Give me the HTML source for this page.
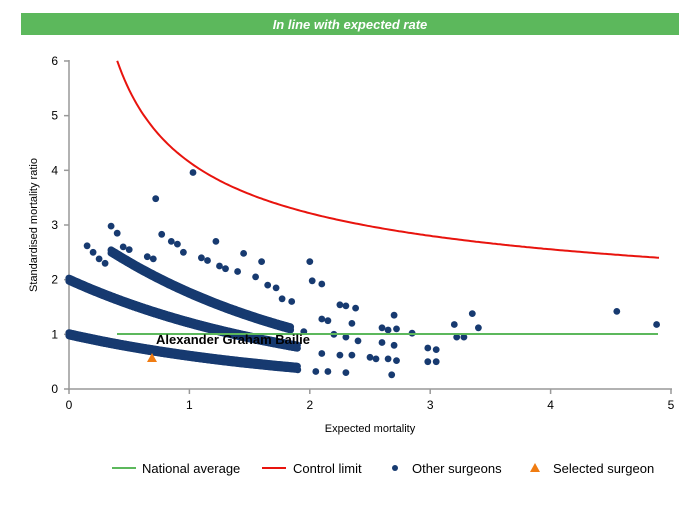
<!DOCTYPE html><html><head><style>body{margin:0;background:#fff;font-family:"Liberation Sans",sans-serif}</style></head><body>
<svg id="s" width="700" height="500" xmlns="http://www.w3.org/2000/svg" font-family="Liberation Sans, sans-serif">
<rect x="21" y="13" width="658" height="22" fill="#5cb85c"/>
<text x="350" y="29" text-anchor="middle" fill="#fff" font-size="13" font-weight="bold" font-style="italic">In line with expected rate</text>
<g stroke="#999" stroke-width="1.5">
<line x1="69" y1="60" x2="69" y2="390"/><line x1="68" y1="389" x2="672" y2="389"/>
</g>
<g id="ticks" stroke="#999" stroke-width="1.5"></g>
<g font-size="12" fill="#000" id="lbl"></g>
<text x="370" y="432" text-anchor="middle" font-size="11">Expected mortality</text>
<text transform="translate(37,225) rotate(-90)" text-anchor="middle" font-size="11">Standardised mortality ratio</text>
<g id="pts" fill="#173a70"></g>
<line x1="117" y1="334" x2="658" y2="334" stroke="#5cb85c" stroke-width="2"/>
<path id="cl" fill="none" stroke="#e8140e" stroke-width="2"/>
<polygon points="152,353 147,362 157,362" fill="#f07c12"/>
<text x="233" y="344" text-anchor="middle" font-size="13" font-weight="bold">Alexander Graham Bailie</text>
<g font-size="13">
<line x1="112" y1="468" x2="136" y2="468" stroke="#5cb85c" stroke-width="2"/><text x="142" y="473">National average</text>
<line x1="262" y1="468" x2="286" y2="468" stroke="#e8140e" stroke-width="2"/><text x="293" y="473">Control limit</text>
<circle cx="395" cy="468" r="3" fill="#173a70"/><text x="412" y="473">Other surgeons</text>
<polygon points="535,463 530,472 540,472" fill="#f07c12"/><text x="553" y="473">Selected surgeon</text>
</g>
</svg>
<script>
var X=x=>69+x*120.4,Y=y=>389-y*54.67,NS="http://www.w3.org/2000/svg";
function el(p,t,a){var e=document.createElementNS(NS,t);for(var k in a)e.setAttribute(k,a[k]);document.getElementById(p).appendChild(e);return e;}
for(var i=0;i<=5;i++){el("ticks","line",{x1:X(i),y1:389,x2:X(i),y2:394});var t=el("lbl","text",{x:X(i),y:409,"text-anchor":"middle"});t.textContent=i;}
for(var i=0;i<=6;i++){el("ticks","line",{x1:64,y1:Y(i),x2:69,y2:Y(i)});var t=el("lbl","text",{x:58,y:Y(i)+4,"text-anchor":"end"});t.textContent=i;}
var d="";for(var x=0.4;x<=4.9;x+=0.02){var y=0.96+3.19/Math.sqrt(x);d+=(d?"L":"M")+X(x).toFixed(1)+","+Y(y).toFixed(1);}
document.getElementById("cl").setAttribute("d",d);
function c(x,y,r,dy){el("pts","circle",{cx:X(x).toFixed(1),cy:(Y(y)+(dy||0)).toFixed(1),r:r||3.2});}
for(var x=0;x<=1.9;x+=0.008){for(var dy=-1.5;dy<=1.5;dy+=3){c(x,Math.exp(-0.5*x),3.6,dy);c(x,2*Math.exp(-0.5*x),3.6,dy);}}
for(var x=0.35;x<=1.85;x+=0.01){for(var dy=-1.5;dy<=1.5;dy+=3)c(x,3.05*Math.exp(-0.55*x),3.6,dy);}
var sc=[[0.15,2.62],[0.2,2.5],[0.25,2.38],[0.35,2.98],[0.4,2.85],[0.3,2.3],[0.45,2.6],[0.5,2.55],[0.65,2.42],[0.7,2.38],[0.72,3.48],[0.77,2.83],[0.85,2.7],[0.9,2.65],[0.95,2.5],[1.03,3.96],[1.1,2.4],[1.15,2.35],[1.22,2.7],[1.25,2.25],[1.3,2.2],[1.4,2.15],[1.45,2.48],[1.55,2.05],[1.6,2.33],[1.65,1.9],[1.72,1.85],[1.77,1.65],[1.85,1.6],[2.0,2.33],[2.02,1.98],[2.1,1.92],[2.1,1.28],[2.15,1.25],[2.25,1.54],[2.3,1.52],[2.38,1.48],[2.35,1.2],[2.2,1.0],[2.3,0.95],[2.4,0.88],[2.25,0.62],[2.3,0.3],[2.15,0.32],[2.05,0.32],[2.35,0.62],[2.5,0.58],[2.55,0.55],[2.6,1.12],[2.65,1.08],[2.7,1.35],[2.72,1.1],[2.6,0.85],[2.7,0.8],[2.65,0.55],[2.72,0.52],[2.68,0.26],[2.85,1.02],[2.98,0.75],[3.05,0.72],[2.98,0.5],[3.05,0.5],[3.2,1.18],[3.22,0.95],[3.28,0.95],[3.35,1.38],[3.4,1.12],[4.55,1.42],[4.88,1.18],[1.95,1.05],[2.1,0.65],[1.9,0.35]];
sc.forEach(p=>c(p[0],p[1],3.4));
</script>
</body></html>
